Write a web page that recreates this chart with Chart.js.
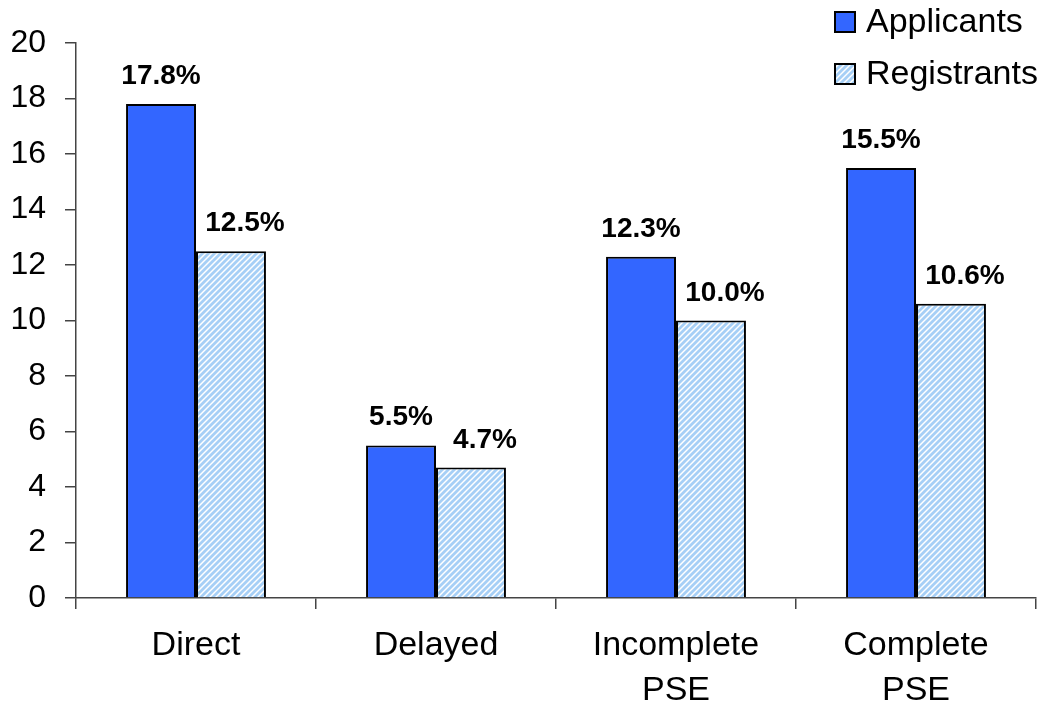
<!DOCTYPE html>
<html>
<head>
<meta charset="utf-8">
<script src="https://cdn.jsdelivr.net/npm/chart.js@4/dist/chart.umd.min.js"></script>
<style>
  html, body { margin: 0; padding: 0; background: #fff; }
  #wrap { width: 1039px; height: 706px; }
</style>
</head>
<body>
<div id="wrap"><canvas id="chart" width="1039" height="706"></canvas></div>
<script>
const categories = [['Direct'], ['Delayed'], ['Incomplete', 'PSE'], ['Complete', 'PSE']];
const applicants = [17.8, 5.5, 12.3, 15.5];
const registrants = [12.5, 4.7, 10.0, 10.6];
const seriesNames = ['Applicants', 'Registrants'];
const yTicks = [0, 2, 4, 6, 8, 10, 12, 14, 16, 18, 20];

const FONT = '"Liberation Sans", Arial, sans-serif';
const BLUE = '#3366FF';

// light blue diagonal hatch for the registrants
function makeHatch() {
    const c = document.createElement('canvas');
    c.width = 6; c.height = 6;
    const g = c.getContext('2d');
    g.fillStyle = '#ffffff';
    g.fillRect(0, 0, 6, 6);
    g.strokeStyle = '#a6cff6';
    g.lineWidth = 2.8;
    g.beginPath();
    g.moveTo(-3, 9); g.lineTo(9, -3);
    g.moveTo(-3, 3); g.lineTo(3, -3);
    g.moveTo(3, 9); g.lineTo(9, 3);
    g.stroke();
    return g.createPattern(c, 'repeat');
}
const hatch = makeHatch();

const valueLabels = {
    id: 'valueLabels',
    afterDatasetsDraw(chart) {
        const ctx = chart.ctx;
        ctx.save();
        ctx.font = 'bold 28px ' + FONT;
        ctx.fillStyle = '#000';
        ctx.textAlign = 'center';
        ctx.textBaseline = 'alphabetic';
        chart.data.datasets.forEach((ds, di) => {
            chart.getDatasetMeta(di).data.forEach((bar, i) => {
                const shift = di === 1 ? 14 : 0;
                ctx.fillText(ds.data[i].toFixed(1) + '%', bar.x + shift, bar.y - 20);
            });
        });
        ctx.restore();
    }
};

const sideLegend = {
    id: 'sideLegend',
    afterDraw(chart) {
        const ctx = chart.ctx;
        ctx.save();
        ctx.font = '34px ' + FONT;
        ctx.textBaseline = 'middle';
        ctx.textAlign = 'left';
        const rows = [22, 74];
        chart.data.datasets.forEach((ds, di) => {
            const y = rows[di];
            ctx.fillStyle = ds.backgroundColor;
            ctx.fillRect(835, y - 10, 20, 20);
            ctx.strokeStyle = '#000';
            ctx.lineWidth = 2;
            ctx.strokeRect(835, y - 10, 20, 20);
            ctx.fillStyle = '#000';
            ctx.fillText(seriesNames[di], 866, y + 1);
        });
        ctx.restore();
    }
};

new Chart(document.getElementById('chart'), {
    type: 'bar',
    data: {
        labels: categories,
        datasets: [{
            label: seriesNames[0],
            data: applicants,
            backgroundColor: BLUE,
            borderColor: '#000',
            borderWidth: 2,
            categoryPercentage: 0.583,
            barPercentage: 1.0
        }, {
            label: seriesNames[1],
            data: registrants,
            backgroundColor: hatch,
            borderColor: '#000',
            borderWidth: 2,
            categoryPercentage: 0.583,
            barPercentage: 1.0
        }]
    },
    options: {
        responsive: false,
        animation: false,
        layout: { padding: { top: 43, right: 3, left: 0, bottom: 0 } },
        plugins: {
            legend: { display: false },
            tooltip: { enabled: false }
        },
        scales: {
            x: {
                grid: { offset: true, drawOnChartArea: false, tickLength: 11, color: '#444', lineWidth: 1.5 },
                border: { color: '#444', width: 1.5 },
                ticks: { color: '#000', font: { family: FONT, size: 34, lineHeight: 1.3 }, padding: 15, maxRotation: 0 },
                afterFit(scale) { scale.height = 108; }
            },
            y: {
                min: 0,
                max: 20,
                afterBuildTicks(scale) { scale.ticks = yTicks.map(v => ({ value: v })); },
                grid: { drawOnChartArea: false, tickLength: 11, color: '#444', lineWidth: 1.5 },
                border: { color: '#444', width: 1.5 },
                ticks: { color: '#000', font: { family: FONT, size: 32 }, padding: 19 },
                afterFit(scale) { scale.width = 76; }
            }
        }
    },
    plugins: [valueLabels, sideLegend]
});
</script>
</body>
</html>
